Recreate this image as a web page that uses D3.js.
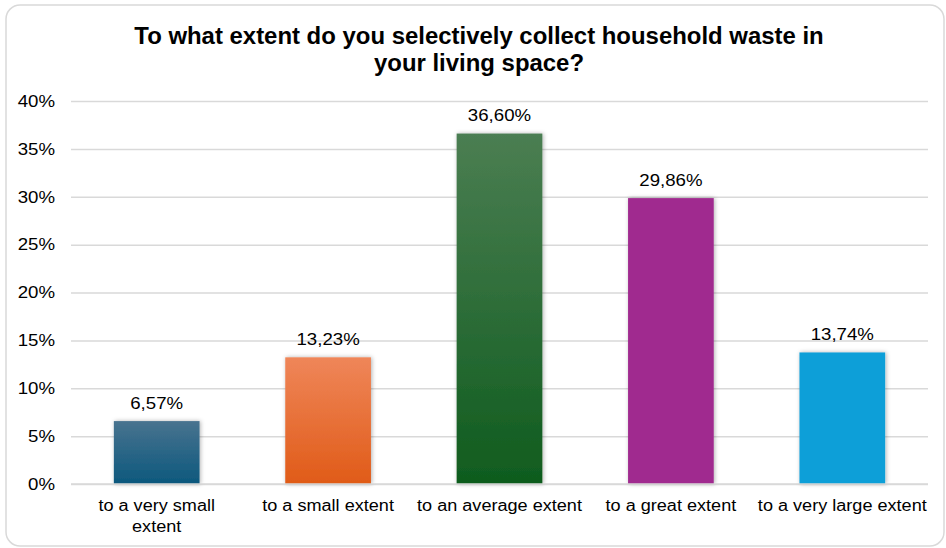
<!DOCTYPE html>
<html><head><meta charset="utf-8">
<script src="https://cdn.jsdelivr.net/npm/d3@7"></script>
<style>body{margin:0;background:#fff}svg{display:block}</style>
</head><body>
<svg id="c" width="946" height="548"></svg>
<script>
const categories = ["to a very small extent", "to a small extent", "to an average extent", "to a great extent", "to a very large extent"];
const values = [6.57, 13.23, 36.60, 29.86, 13.74];
const labels = ["6,57%", "13,23%", "36,60%", "29,86%", "13,74%"];
const yTicks = [0, 5, 10, 15, 20, 25, 30, 35, 40];
const topColors = ["#48738f", "#ef8659", "#4b7e52", "#a02c8f", "#119fd8"];
const bottomColors = ["#0c587d", "#e05b18", "#0f5c1e", "#a02c8f", "#119fd8"];
const title = ["To what extent do you selectively collect household waste in", "your living space?"];

const svg = d3.select("#c");
const font = "Arial, 'Liberation Sans', sans-serif";
const W = 946, H = 548;
const m = {l: 71, r: 18, t: 101, b: 64};
const K = 1.13; // horizontal stretch of the reference text
function stretch(sel, k) {
  sel.each(function() {
    const n = this.getComputedTextLength();
    d3.select(this).attr("textLength", n * k).attr("lengthAdjust", "spacingAndGlyphs");
  });
}
const x = d3.scaleBand().domain(categories).range([m.l, W - m.r]).paddingInner(0.5).paddingOuter(0.25);
const y = d3.scaleLinear().domain([0, 40]).range([H - m.b, m.t]);

const defs = svg.append("defs");
categories.forEach((c, i) => {
  const g = defs.append("linearGradient").attr("id", "g" + i).attr("x1", 0).attr("y1", 0).attr("x2", 0).attr("y2", 1);
  g.append("stop").attr("offset", "0%").attr("stop-color", topColors[i]);
  g.append("stop").attr("offset", "100%").attr("stop-color", bottomColors[i]);
});
const f = defs.append("filter").attr("id", "sh").attr("x", "-20%").attr("y", "-20%").attr("width", "140%").attr("height", "140%");
f.append("feDropShadow").attr("dx", 1).attr("dy", 0).attr("stdDeviation", 2).attr("flood-color", "#000").attr("flood-opacity", 0.3);

svg.append("rect").attr("x", 6).attr("y", 5).attr("width", 938).attr("height", 541).attr("rx", 14)
  .attr("fill", "#fff").attr("stroke", "#d9d9d9").attr("stroke-width", 1.5);

const tg = svg.append("text").attr("text-anchor", "middle").attr("font-family", font)
  .attr("font-weight", "bold").attr("font-size", 23).attr("fill", "#000");
title.forEach((t, i) => tg.append("tspan").attr("x", 479).attr("y", 44 + i * 26.5).text(t));
stretch(tg.selectAll("tspan"), 1.04);

const yAxis = d3.axisLeft(y).tickValues(yTicks).tickSize(-(W - m.l - m.r)).tickPadding(16).tickFormat(d => d + "%");
const ga = svg.append("g").attr("transform", `translate(${m.l},0)`).call(yAxis);
ga.select(".domain").remove();
ga.selectAll(".tick line").attr("stroke", "#d9d9d9").attr("stroke-width", 1.5);
ga.selectAll(".tick text").attr("font-family", font).attr("font-size", 16.5).attr("fill", "#000");
stretch(ga.selectAll(".tick text"), K);

svg.append("g").selectAll("rect").data(values).join("rect")
  .attr("x", (d, i) => x(categories[i])).attr("width", x.bandwidth())
  .attr("y", d => y(d)).attr("height", d => y(0) - y(d))
  .attr("fill", (d, i) => `url(#g${i})`).attr("filter", "url(#sh)");

svg.append("line").attr("x1", m.l).attr("x2", W - m.r).attr("y1", y(0)).attr("y2", y(0))
  .attr("stroke", "#d9d9d9").attr("stroke-width", 1.5);

const vl = svg.append("g").selectAll("text").data(values).join("text")
  .attr("x", (d, i) => x(categories[i]) + x.bandwidth() / 2).attr("y", d => y(d) - 12.5)
  .attr("text-anchor", "middle").attr("font-family", font).attr("font-size", 16.5).attr("fill", "#000")
  .text((d, i) => labels[i]);
stretch(vl, K);

const catLines = c => c === "to a very small extent" ? ["to a very small", "extent"] : [c];
const cg = svg.append("g").selectAll("text").data(categories).join("text")
  .attr("text-anchor", "middle").attr("font-family", font).attr("font-size", 16).attr("fill", "#000");
cg.each(function(c) {
  const t = d3.select(this);
  catLines(c).forEach((l, j) => t.append("tspan").attr("x", x(c) + x.bandwidth() / 2).attr("y", 511 + j * 20.5).text(l));
});
stretch(cg.selectAll("tspan"), K);
</script>
</body></html>
